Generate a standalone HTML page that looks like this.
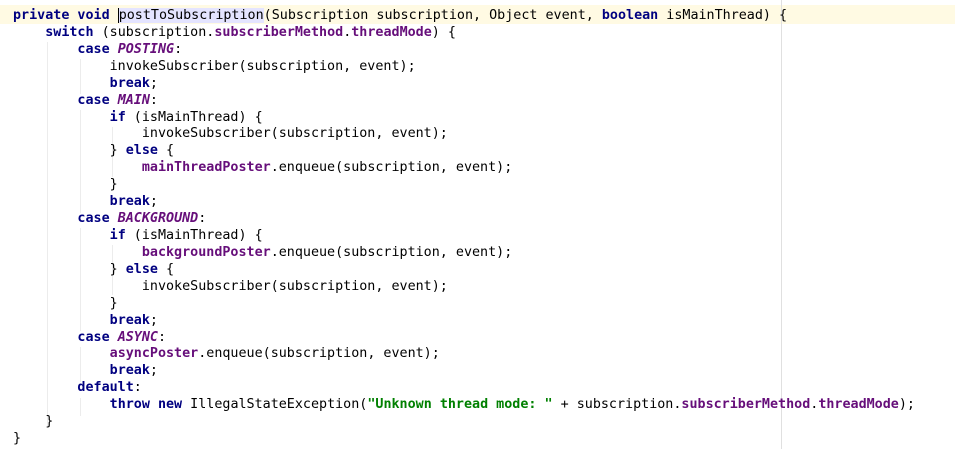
<!DOCTYPE html>
<html><head><meta charset="utf-8"><style>
html,body{margin:0;padding:0;background:#fff;}
body{width:955px;height:449px;position:relative;overflow:hidden;}
.hl{position:absolute;left:0;top:5px;width:955px;height:19px;background:#fffae3;}
.margin{position:absolute;left:781px;top:0;width:1px;height:449px;background:#e0e0e0;}
.g{position:absolute;width:1px;background:#ececec;}
pre{position:absolute;left:13px;top:8px;margin:0;font-family:"DejaVu Sans Mono","Liberation Mono",monospace;font-size:13.38px;line-height:16.92px;color:#000;}
.k{color:#000080;font-weight:bold;}
.f{color:#660e7a;font-weight:bold;}
.c{color:#660e7a;font-style:italic;font-weight:bold;}
.s{color:#008000;font-weight:bold;}
.sel{background:#e4e4ff;}
.cur{border-left:1px solid #000;}
</style></head><body>
<div class="hl"></div>
<div class="margin"></div>
<div class="g" style="left:47px;top:42px;height:385px"></div>
<div class="g" style="left:80px;top:59px;height:35px"></div>
<div class="g" style="left:80px;top:110px;height:103px"></div>
<div class="g" style="left:112px;top:127px;height:50px"></div>
<div class="g" style="left:80px;top:228px;height:103px"></div>
<div class="g" style="left:112px;top:245px;height:50px"></div>
<div class="g" style="left:80px;top:347px;height:35px"></div>
<div class="g" style="left:80px;top:398px;height:18px"></div>
<pre><span class="k">private void</span> <span class="sel"><span class="cur"></span>postToSubscription</span>(Subscription subscription, Object event, <span class="k">boolean</span> isMainThread) {
    <span class="k">switch</span> (subscription.<span class="f">subscriberMethod</span>.<span class="f">threadMode</span>) {
        <span class="k">case</span> <span class="c">POSTING</span>:
            invokeSubscriber(subscription, event);
            <span class="k">break</span>;
        <span class="k">case</span> <span class="c">MAIN</span>:
            <span class="k">if</span> (isMainThread) {
                invokeSubscriber(subscription, event);
            } <span class="k">else</span> {
                <span class="f">mainThreadPoster</span>.enqueue(subscription, event);
            }
            <span class="k">break</span>;
        <span class="k">case</span> <span class="c">BACKGROUND</span>:
            <span class="k">if</span> (isMainThread) {
                <span class="f">backgroundPoster</span>.enqueue(subscription, event);
            } <span class="k">else</span> {
                invokeSubscriber(subscription, event);
            }
            <span class="k">break</span>;
        <span class="k">case</span> <span class="c">ASYNC</span>:
            <span class="f">asyncPoster</span>.enqueue(subscription, event);
            <span class="k">break</span>;
        <span class="k">default</span>:
            <span class="k">throw new</span> IllegalStateException(<span class="s">"Unknown thread mode: "</span> + subscription.<span class="f">subscriberMethod</span>.<span class="f">threadMode</span>);
    }
}</pre>
</body></html>
